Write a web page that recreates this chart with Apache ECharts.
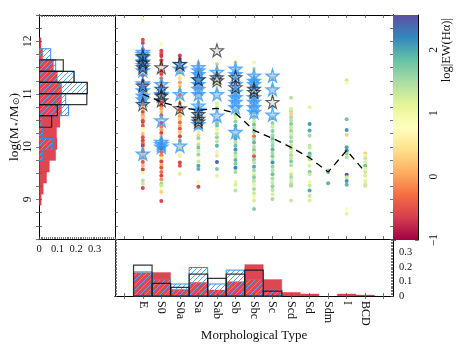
<!DOCTYPE html>
<html><head><meta charset="utf-8">
<script src="https://cdn.jsdelivr.net/npm/echarts@6/dist/echarts.min.js"></script>
<style>html,body{margin:0;padding:0;background:#fff}#c{width:458px;height:354px}</style>
</head><body><div id="c"></div>
<script>
// ---------------- DATA ----------------
const types = ['E','S0','S0a','Sa','Sab','Sb','Sbc','Sc','Scd','Sd','Sdm','I','BCD'];
const axisCats = ['_a'].concat(types).concat(['_b']);

// scatter points per type: [log M*, log|EW(Ha)|]
const dotsE = [[12.43,0.7],[12.03,-0.5],[11.97,-0.6],[11.85,-0.4],[11.75,-0.5],[11.65,-0.3],[11.55,-0.6],[11.45,-0.2],[11.35,-0.5],[11.25,-0.4],[11.15,-0.6],[11.05,-0.3],[10.95,0.1],[10.88,-0.5],[10.8,-0.2],[10.73,0.2],[10.66,-0.6],[10.6,0.0],[10.56,0.2],[10.5,-0.4],[10.47,-0.6],[10.4,-0.5],[10.34,0.6],[10.31,0.9],[10.24,0.2],[10.18,-0.5],[10.12,-0.6],[10.06,-0.3],[10.02,-0.7],[9.96,0.2],[9.91,-0.1],[9.82,0.3],[9.77,0.2],[9.71,-0.5],[9.64,0.1],[9.57,-0.6],[9.5,0.6],[9.36,1.4],[9.3,1.3],[9.22,-0.6]];
const dotsS0 = [[11.95,0.7],[11.82,-0.6],[11.77,-0.5],[11.72,-0.7],[11.64,-0.6],[11.57,-0.4],[11.44,-0.5],[11.38,-0.6],[11.3,-0.2],[11.24,0.1],[11.15,-0.5],[11.05,-0.3],[10.92,0.2],[10.84,-0.6],[10.78,-0.5],[10.72,0.0],[10.66,0.2],[10.6,-0.4],[10.55,0.3],[10.45,-0.5],[10.38,-0.2],[10.32,0.0],[10.26,-0.6],[10.2,0.3],[10.14,-0.3],[10.07,-0.5],[9.97,-0.6],[9.9,-0.4],[9.84,-0.2],[9.78,0.5],[9.72,-0.6],[9.66,0.1],[9.6,-0.5],[9.52,-0.3],[9.45,-0.6],[9.38,-0.1],[9.3,1.6],[9.26,1.3],[9.2,0.8],[9.14,0.3],[8.97,-0.6]];
const dotsS0a = [[11.73,-0.6],[11.67,-0.5],[11.6,-0.4],[11.52,0.3],[11.43,0.2],[11.37,0.5],[11.3,0.4],[11.22,0.0],[11.15,0.3],[11.07,0.1],[10.98,-0.2],[10.9,0.5],[10.83,0.0],[10.7,-0.5],[10.64,0.2],[10.58,0.0],[10.52,0.3],[10.46,-0.3],[10.4,0.1],[10.34,-0.5],[10.28,0.2],[10.2,-0.6],[10.12,0.0],[10.05,0.6],[9.96,0.8],[9.9,0.9],[9.83,1.1],[9.7,-0.6],[9.64,-0.5],[9.49,1.2]];
const dotsSa = [[11.6,0.4],[11.52,0.7],[11.45,0.2],[11.35,0.9],[11.25,0.5],[11.12,0.8],[11.0,0.3],[10.93,1.2],[10.85,0.6],[10.72,0.2],[10.66,1.0],[10.58,0.5],[10.5,1.3],[10.42,0.7],[10.35,1.5],[10.28,1.1],[10.22,0.4],[10.16,1.6],[10.1,0.9],[10.04,1.4],[9.98,1.8],[9.92,1.2],[9.85,1.6],[9.78,0.8],[9.72,1.3],[9.64,2.0],[9.58,1.9],[9.33,0.7],[9.24,-0.6]];
const dotsSab = [[11.57,0.3],[11.5,0.9],[11.38,0.7],[11.2,1.2],[11.12,0.6],[11.05,1.4],[10.95,1.0],[10.82,1.2],[10.75,1.3],[10.68,1.1],[10.5,1.5],[10.45,1.7],[10.4,1.8],[10.33,1.1],[10.25,1.3],[10.18,1.6],[10.1,1.4],[10.02,1.9],[9.9,1.0],[9.83,1.2],[9.71,2.4],[9.58,1.7],[9.45,1.1]];
const dotsSb = [[11.6,0.3],[11.55,0.9],[11.42,0.7],[11.28,1.2],[11.22,0.5],[11.08,1.3],[10.98,1.1],[10.9,1.5],[10.8,0.9],[10.7,1.4],[10.62,1.7],[10.55,1.2],[10.48,1.6],[10.4,1.9],[10.34,1.3],[10.22,1.5],[10.15,2.0],[10.08,1.4],[10.02,1.8],[9.95,2.1],[9.88,1.6],[9.82,1.3],[9.75,1.9],[9.68,1.7],[9.6,2.2],[9.52,1.5],[9.33,1.1],[9.28,1.2],[9.17,1.4]];
const dotsSbc = [[11.6,1.0],[11.48,1.3],[11.4,0.8],[11.3,1.4],[11.22,1.2],[11.12,1.5],[11.0,1.3],[10.9,1.6],[10.8,1.4],[10.72,0.9],[10.65,1.5],[10.55,1.7],[10.48,1.3],[10.42,1.8],[10.35,1.4],[10.28,1.6],[10.2,-0.3],[10.14,1.5],[10.08,1.9],[10.0,1.4],[9.94,1.7],[9.88,1.3],[9.82,-0.5],[9.76,1.6],[9.7,1.4],[9.62,2.0],[9.55,1.5],[9.48,1.2],[9.42,1.7],[9.35,1.4],[9.28,1.1],[9.2,1.5],[9.12,1.3],[9.05,1.0],[8.98,1.2],[8.82,1.7]];
const dotsSc = [[11.3,1.2],[11.15,1.4],[10.95,1.3],[10.75,1.5],[10.55,1.4],[10.45,1.6],[10.38,1.3],[10.3,1.7],[10.22,1.5],[10.15,1.8],[10.08,1.4],[10.02,1.6],[9.95,1.9],[9.88,1.5],[9.82,1.7],[9.75,1.3],[9.7,2.1],[9.62,1.6],[9.55,1.4],[9.48,1.8],[9.4,1.5],[9.32,1.3],[9.25,1.6],[9.18,1.4],[9.1,1.2],[9.01,1.5]];
const dotsScd = [[10.93,1.4],[10.72,1.2],[10.67,1.4],[10.62,0.3],[10.56,1.5],[10.5,1.4],[10.43,1.7],[10.37,1.3],[10.3,1.6],[10.24,1.2],[10.18,1.5],[10.1,1.6],[10.03,1.3],[9.97,1.6],[9.9,1.2],[9.84,1.5],[9.78,1.3],[9.72,1.7],[9.65,1.4],[9.55,0.8],[9.48,1.3],[9.42,1.5],[9.36,1.2],[9.3,1.4],[9.26,1.5],[8.98,1.3]];
const dotsSd = [[10.75,1.1],[10.43,2.1],[10.31,2.0],[10.21,1.5],[10.02,1.4],[9.98,1.3],[9.87,1.9],[9.83,1.7],[9.76,1.4],[9.64,1.2],[9.52,1.8],[9.48,1.3],[9.33,1.0],[9.26,1.3],[9.17,2.0],[9.07,1.3],[8.98,1.2]];
const dotsSdm = [[9.55,1.6],[9.52,1.8],[9.31,1.9]];
const dotsI = [[11.26,1.3],[11.21,0.9],[10.52,1.8],[10.32,2.1],[10.23,0.3],[9.99,2.0],[9.93,2.2],[9.87,1.6],[9.8,1.4],[9.47,2.5],[9.42,1.3],[9.35,2.1],[9.28,1.9],[8.83,0.8],[8.73,1.1]];
const dotsBCD = [[9.87,0.3],[9.83,1.0],[9.78,1.3],[9.7,1.2],[9.64,1.8],[9.58,1.1],[9.52,1.3],[9.45,1.2],[9.36,1.1],[9.3,1.2],[9.26,1.3]];
const dotsByType = [dotsE,dotsS0,dotsS0a,dotsSa,dotsSab,dotsSb,dotsSbc,dotsSc,dotsScd,dotsSd,dotsSdm,dotsI,dotsBCD];

// star samples (log M*) per type
const blueStars = {
  E:[11.8,11.76,11.7,11.62,11.55,11.45,11.2,11.07,10.97,10.9,9.87],
  S0:[11.19,11.0,10.5,10.09,10.05,10.0],
  S0a:[11.57,11.48,11.0,10.02],
  Sa:[11.51,11.45,11.38,11.28,11.19,11.1,11.0,10.78,10.7,10.43],
  Sab:[11.42,11.0,10.59],
  Sb:[11.48,11.38,11.19,11.04,10.94,10.85,10.75,10.28],
  Sbc:[11.35,11.25,11.19,10.94,10.85,10.75,10.66],
  Sc:[11.35,11.09,10.61]
};
const blackStars = {
  E:[11.72,11.6,11.51,11.16,10.81],
  S0:[11.51,11.1,10.97,10.88],
  S0a:[11.57,10.73],
  Sa:[11.28,10.62,10.53,10.48],
  Sab:[11.83,11.32,11.26],
  Sb:[11.32,11.13],
  Sbc:[11.1,11.04],
  Sc:[10.85]
};
// dashed median line
const medianLine = [11.0,10.85,10.75,10.69,10.73,10.64,10.31,10.16,9.99,9.79,9.52,9.93,9.52];

// left histogram (stellar mass), bin edges and fractions
const massBinEdges = [8.89,9.10,9.31,9.52,9.74,9.95,10.16,10.37,10.59,10.80,11.01,11.22,11.43,11.65,11.86,12.07];
const massHistRed   = [0.012,0.023,0.041,0.056,0.090,0.097,0.095,0.113,0.122,0.122,0.122,0.099,0.078,0.020,0.011];
const massHistBlue  = [0,0,0,0,0.020,0.072,0.020,0.015,0.159,0.144,0.261,0.189,0.090,0.063,0];
const massHistBlack = [0,0,0,0,0,0,0,0.068,0.099,0.258,0.260,0.189,0.131,0,0];

// bottom histogram (morphological type)
const typeHistRed   = [0.160,0.161,0.045,0.093,0.041,0.098,0.215,0.113,0.025,0.014,0,0.014,0.007];
const typeHistBlue  = [0.165,0.113,0.082,0.195,0.082,0.177,0.113,0.045,0,0,0,0,0];
const typeHistBlack = [0.211,0.086,0.059,0.150,0.120,0.150,0.177,0.034,0,0,0,0,0];

const spectral = ['#9e0142','#d53e4f','#f46d43','#fdae61','#fee08b','#ffffbf','#e6f598','#abdda4','#66c2a5','#3288bd','#5e4fa2'];
const ewMin = -1, ewMax = 2.55;

// ---------------- BUILD ----------------
const FONT = 'Liberation Serif';
const RED = 'rgba(216,38,50,0.85)';
const BLUE_EDGE = '#2f8ef0';
const BLACK_EDGE = 'rgba(20,20,20,0.85)';
const STAR = 'path://M50,0 L61,35 L98,35 L68,57 L79,91 L50,70 L21,91 L32,57 L2,35 L39,35 Z';

function hatch(){
  const c = document.createElement('canvas'); c.width = 5; c.height = 5;
  const g = c.getContext('2d');
  g.strokeStyle = '#58aaf5'; g.lineWidth = 1;
  g.beginPath();
  g.moveTo(-1,6); g.lineTo(6,-1);
  g.moveTo(-1,1); g.lineTo(1,-1);
  g.moveTo(4,6); g.lineTo(6,4);
  g.stroke();
  return {image: c, repeat: 'repeat'};
}
const HATCH = hatch();

const dotData = [];
dotsByType.forEach((arr, i) => arr.forEach(p => dotData.push([types[i], p[0], p[1]])));
const blueStarData = [], blackStarData = [];
Object.keys(blueStars).forEach(t => blueStars[t].forEach(m => blueStarData.push([t, m])));
Object.keys(blackStars).forEach(t => blackStars[t].forEach(m => blackStarData.push([t, m])));
const lineData = types.map((t, i) => [t, medianLine[i]]);

const massHistData = a => a.map((v, i) => [massBinEdges[i], massBinEdges[i+1], v]);
const typeHistData = a => a.map((v, i) => [i + 1, v]);

function leftRender(style){
  return function(params, api){
    const lo = api.value(0), hi = api.value(1), v = api.value(2);
    if (!v) return null;
    const a = api.coord([0, hi]), b = api.coord([v, lo]);
    return {type:'rect', shape:{x:a[0], y:a[1], width:b[0]-a[0], height:b[1]-a[1]}, style: Object.assign({}, style)};
  };
}
function bottomRender(style){
  return function(params, api){
    const idx = api.value(0), v = api.value(1);
    if (!v) return null;
    const c = api.coord([idx, v]), z = api.coord([idx, 0]);
    const w = api.size([1, 0])[0];
    return {type:'rect', shape:{x:c[0]-w/2, y:c[1], width:w, height:z[1]-c[1]}, style: Object.assign({}, style)};
  };
}

const lblStyle = {fontFamily: FONT, fontSize: 11, color: '#111'};
const axLine = {show:true, lineStyle:{color:'#000', width:1}};
const tick = (len) => ({show:true, inside:true, length:len, lineStyle:{color:'#555', width:0.8}});
const noLbl = {show:false};
const noSplit = {show:false};

const massAxisBase = {type:'value', min:8.25, max:12.5, interval:0.25, axisLine:axLine, axisTick:tick(3), splitLine:noSplit};
const catAxisBase = {type:'category', data:axisCats, boundaryGap:true, axisLine:axLine, axisTick:Object.assign(tick(3),{alignWithLabel:true, interval:0}), splitLine:noSplit};
const fracLabel = v => { const r = Math.round(v*10); return (Math.abs(v*10 - r) < 1e-6 && r <= 3) ? (r === 0 ? '0' : (r/10).toFixed(1)) : ''; };

const option = {
  backgroundColor: '#fff',
  animation: false,
  grid: [
    {left:39, top:15, width:76, height:224, outerBoundsMode:'none'},
    {left:115, top:15, width:278, height:224, outerBoundsMode:'none'},
    {left:115, top:239, width:278, height:57, outerBoundsMode:'none'},
    {left:393, top:15, width:25, height:225, outerBoundsMode:'none'}
  ],
  visualMap: {type:'continuous', show:false, min:ewMin, max:ewMax, dimension:2, seriesIndex:[6], inRange:{color:spectral}},
  xAxis: [
    {gridIndex:0, type:'value', min:0, max:0.41, interval:0.01, axisLine:axLine, axisTick:tick(2), splitLine:noSplit,
      axisLabel:{show:true, margin:5, formatter:fracLabel, ...lblStyle, fontSize:10.5}},
    {gridIndex:0, type:'value', position:'top', min:0, max:0.41, interval:0.01, axisLine:axLine, axisTick:tick(2), splitLine:noSplit, axisLabel:noLbl},
    Object.assign({gridIndex:1, position:'bottom', axisLabel:noLbl}, catAxisBase),
    Object.assign({gridIndex:1, position:'top', axisLabel:noLbl}, catAxisBase),
    Object.assign({gridIndex:2, position:'bottom',
      axisLabel:{show:true, interval:0, rotate:-90, margin:5, formatter: v => v.charAt(0)==='_' ? '' : v, ...lblStyle, fontSize:12},
      name:'Morphological Type', nameLocation:'middle', nameGap:33, nameTextStyle:{fontFamily:FONT, fontSize:13, color:'#111'}}, catAxisBase),
    Object.assign({gridIndex:2, position:'top', axisLabel:noLbl}, catAxisBase),
    {gridIndex:3, type:'category', data:['cb'], show:false}
  ],
  yAxis: [
    Object.assign({gridIndex:0, position:'left',
      axisLabel:{show:true, rotate:90, margin:5, formatter: v => Math.abs(v - Math.round(v)) < 1e-6 ? String(Math.round(v)) : '', ...lblStyle, fontSize:11.5},
      name:'log(M{s|\u22c6}/M{s|\u2299})', nameLocation:'middle', nameGap:15, nameRotate:90,
      nameTextStyle:{fontFamily:FONT, fontSize:13.5, color:'#111', rich:{s:{fontFamily:FONT, fontSize:9, color:'#111', verticalAlign:'bottom', padding:[5,0,0,0]}}}}, massAxisBase),
    Object.assign({gridIndex:0, position:'right', axisLabel:noLbl}, massAxisBase),
    Object.assign({gridIndex:1, position:'left', axisLabel:noLbl}, massAxisBase),
    Object.assign({gridIndex:1, position:'right', axisLabel:noLbl}, massAxisBase),
    {gridIndex:2, type:'value', position:'right', min:0, max:0.39, interval:0.01, axisLine:axLine, axisTick:tick(2), splitLine:noSplit,
      axisLabel:{show:true, margin:6, formatter:fracLabel, ...lblStyle, fontSize:10.5}},
    {gridIndex:2, type:'value', position:'left', min:0, max:0.39, interval:0.01, axisLine:axLine, axisTick:tick(2), splitLine:noSplit, axisLabel:noLbl},
    {gridIndex:3, type:'value', position:'right', min:ewMin, max:ewMax, interval:0.2, axisLine:axLine, axisTick:tick(3), splitLine:noSplit,
      axisLabel:{show:true, rotate:90, margin:10, formatter: v => Math.abs(v - Math.round(v)) < 1e-6 ? String(Math.round(v)).replace('-','\u2212') : '', ...lblStyle, fontSize:11.5}},
    {gridIndex:3, type:'value', position:'left', min:ewMin, max:ewMax, interval:0.2, axisLine:axLine, axisTick:tick(3), splitLine:noSplit, axisLabel:noLbl}
  ],
  graphic: [
    {type:'text', left:440, top:18, rotation:Math.PI/2, style:{text:'log|EW(H\u03b1)|', fontFamily:FONT, fontSize:12.5, fill:'#111'}}
  ],
  series: [
    {type:'custom', xAxisIndex:0, yAxisIndex:0, renderItem:leftRender({fill:RED, stroke:'rgba(216,38,50,0.5)', lineWidth:0.5}), data:massHistData(massHistRed), clip:true, silent:true},
    {type:'custom', xAxisIndex:0, yAxisIndex:0, renderItem:leftRender({fill:HATCH, stroke:BLUE_EDGE, lineWidth:1}), data:massHistData(massHistBlue), clip:true, silent:true},
    {type:'custom', xAxisIndex:0, yAxisIndex:0, renderItem:leftRender({fill:'none', stroke:BLACK_EDGE, lineWidth:1.2}), data:massHistData(massHistBlack), clip:true, silent:true},
    {type:'custom', xAxisIndex:4, yAxisIndex:4, renderItem:bottomRender({fill:RED, stroke:'rgba(216,38,50,0.5)', lineWidth:0.5}), data:typeHistData(typeHistRed), silent:true},
    {type:'custom', xAxisIndex:4, yAxisIndex:4, renderItem:bottomRender({fill:HATCH, stroke:BLUE_EDGE, lineWidth:1}), data:typeHistData(typeHistBlue), silent:true},
    {type:'custom', xAxisIndex:4, yAxisIndex:4, renderItem:bottomRender({fill:'none', stroke:BLACK_EDGE, lineWidth:1.2}), data:typeHistData(typeHistBlack), silent:true},
    {type:'scatter', xAxisIndex:2, yAxisIndex:2, symbol:'circle', symbolSize:4, itemStyle:{opacity:1}, data:dotData, silent:true},
    {type:'scatter', xAxisIndex:2, yAxisIndex:2, symbol:STAR, symbolSize:13,
      itemStyle:{color:'rgba(40,120,235,0.4)', borderColor:'#3a9cff', borderWidth:1.3}, data:blueStarData, silent:true},
    {type:'scatter', xAxisIndex:2, yAxisIndex:2, symbol:STAR, symbolSize:13,
      itemStyle:{color:'rgba(40,40,40,0.15)', borderColor:'rgba(20,20,20,0.85)', borderWidth:1.1}, data:blackStarData, silent:true},
    {type:'line', xAxisIndex:2, yAxisIndex:2, data:lineData, showSymbol:false, symbol:'none', lineStyle:{color:'#000', width:1.3, type:[7,5]}, silent:true, z:5},
    {type:'custom', xAxisIndex:6, yAxisIndex:6, silent:true, data:[[0, ewMin, ewMax]],
      renderItem: function(params, api){
        const top = api.coord([0, api.value(2)]), bot = api.coord([0, api.value(1)]);
        const w = api.size([1,0])[0];
        const stops = spectral.map((c, i) => ({offset: i/(spectral.length-1), color: c}));
        return {type:'rect', shape:{x:top[0]-w/2, y:top[1], width:w, height:bot[1]-top[1]},
          style:{fill: new echarts.graphic.LinearGradient(0,1,0,0, stops)}};
      }}
  ]
};
const chart = echarts.init(document.getElementById('c'), null, {renderer:'canvas'});
chart.setOption(option);
</script>
</body></html>
